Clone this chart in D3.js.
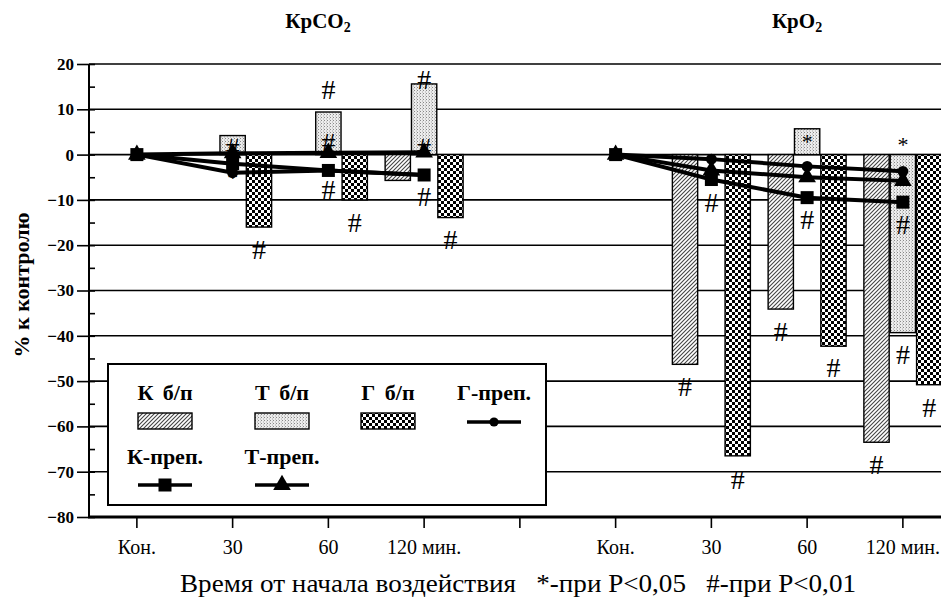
<!DOCTYPE html>
<html>
<head>
<meta charset="utf-8">
<script src="https://cdn.jsdelivr.net/npm/d3@7"></script>
<style>
	body { margin: 0; background: #fff; }
</style>
</head>
<body>
<svg id="chart" width="941" height="600"></svg>
<script>
// categories along the x axis (two panels with a gap between them)
var timeLabels = ["Кон.", "30", "60", "120 мин."];
var panelTitles = ["КрCO", "КрO"];
var barSeries = ["К б/п", "Т б/п", "Г б/п"];
var lineSeries = ["К-преп.", "Т-преп.", "Г-преп."];
var yTicks = [20, 10, 0, -10, -20, -30, -40, -50, -60, -70, -80];

// КрCO2, % к контролю
var co2_K_bp = [0, 0, 0, -5.7];
var co2_T_bp = [0, 4.2, 9.4, 15.6];
var co2_G_bp = [0, -16, -10, -13.9];
var co2_K_prep = [0, -2, -3.5, -4.5];
var co2_T_prep = [0, 0.3, 0.4, 0.5];
var co2_G_prep = [0, -4, -3.5, -4.5];

// КрO2, % к контролю
var o2_K_bp = [0, -46.3, -34.1, -63.5];
var o2_T_bp = [0, 0, 5.7, -39.3];
var o2_G_bp = [0, -66.5, -42.3, -50.8];
var o2_K_prep = [0, -5.5, -9.5, -10.5];
var o2_T_prep = [0, -3.5, -5, -5.8];
var o2_G_prep = [0, -1, -2.6, -3.7];

// significance marks: panel, time index, bar slot, value level, symbol
var marks = [
	[0, 1, 1, 1.5, "#"], [0, 1, 1, -5, "*"], [0, 1, 2, -21, "#"],
	[0, 2, 1, 14.3, "#"], [0, 2, 1, 2.6, "#"], [0, 2, 1, -7.7, "#"], [0, 2, 2, -15, "#"],
	[0, 3, 1, 16.5, "#"], [0, 3, 1, 1.5, "#"], [0, 3, 1, -9.3, "#"], [0, 3, 2, -18.8, "#"],
	[1, 1, 0, -51.2, "#"], [1, 1, 1, -10.6, "#"], [1, 1, 2, -71.7, "#"],
	[1, 2, 1, 2.9, "*"], [1, 2, 1, -14.3, "#"], [1, 2, 0, -39, "#"], [1, 2, 2, -47, "#"],
	[1, 3, 1, 2.2, "*"], [1, 3, 1, -15.5, "#"], [1, 3, 0, -68.4, "#"], [1, 3, 1, -44.1, "#"], [1, 3, 2, -55.8, "#"]
];

var barData = [[co2_K_bp, co2_T_bp, co2_G_bp], [o2_K_bp, o2_T_bp, o2_G_bp]];
var lineData = [[co2_K_prep, co2_T_prep, co2_G_prep], [o2_K_prep, o2_T_prep, o2_G_prep]];

var SERIF = "'Liberation Serif', 'Times New Roman', Times, 'DejaVu Serif', 'Noto Serif', serif";
var NARROW = "'Liberation Sans Narrow', 'Liberation Serif', 'DejaVu Serif', serif";

var svg = d3.select("#chart");
var plotLeft = 89, plotTop = 64, plotBottom = 517;
var step = 95.75;

var categories = timeLabels.concat([""], timeLabels);
var x = d3.scaleBand().domain(d3.range(categories.length)).range([plotLeft, plotLeft + step * categories.length]);
var bw = x.bandwidth();
var xSub = d3.scaleBand().domain([0, 1, 2]).range([-39, 39]).paddingInner(0.04);
var y = d3.scaleLinear().domain([-80, 20]).range([plotBottom, plotTop]);

function catIndex(panel, t) {
	return panel * 5 + t;
}
function cx(panel, t) {
	return x(catIndex(panel, t)) + bw / 2;
}

// patterns
var defs = svg.append("defs");
var hatch = defs.append("pattern").attr("id", "hatch").attr("patternUnits", "userSpaceOnUse")
	.attr("width", 4).attr("height", 4);
hatch.append("rect").attr("width", 4).attr("height", 4).attr("fill", "#fff");
hatch.append("path").attr("d", "M-1,1 l2,-2 M0,4 l4,-4 M3,5 l2,-2")
	.attr("stroke", "#444").attr("stroke-width", 1.1);

var dots = defs.append("pattern").attr("id", "dots").attr("patternUnits", "userSpaceOnUse")
	.attr("width", 3).attr("height", 3);
dots.append("rect").attr("width", 3).attr("height", 3).attr("fill", "#ececec");
dots.append("rect").attr("x", 0).attr("y", 0).attr("width", 1).attr("height", 1).attr("fill", "#888");
dots.append("rect").attr("x", 2).attr("y", 1.5).attr("width", 1).attr("height", 1).attr("fill", "#aaa");

var checker = defs.append("pattern").attr("id", "checker").attr("patternUnits", "userSpaceOnUse")
	.attr("width", 6).attr("height", 6);
checker.append("rect").attr("width", 6).attr("height", 6).attr("fill", "#fff");
checker.append("rect").attr("width", 3).attr("height", 3).attr("fill", "#000");
checker.append("rect").attr("x", 3).attr("y", 3).attr("width", 3).attr("height", 3).attr("fill", "#000");

var fills = ["url(#hatch)", "url(#dots)", "url(#checker)"];

// grid
svg.append("g").selectAll("line")
	.data(yTicks.filter(function(d) {return d > -80;}))
	.enter().append("line")
	.attr("x1", plotLeft).attr("x2", 941)
	.attr("y1", function(d) {return y(d);}).attr("y2", function(d) {return y(d);})
	.attr("stroke", "#000").attr("stroke-width", 1.6);

// y axis
var yAxis = svg.append("g").attr("transform", "translate(" + plotLeft + ",0)")
	.call(d3.axisLeft(y).tickValues(yTicks).tickSize(12).tickPadding(3).tickFormat(d3.format("d")));
yAxis.attr("font-family", SERIF).attr("font-size", 17).attr("font-weight", "bold");
yAxis.select(".domain").remove();
yAxis.selectAll(".tick line").attr("x1", 6).attr("stroke-width", 1.6);
svg.append("g").attr("transform", "translate(" + plotLeft + ",0)")
	.call(d3.axisRight(y).tickValues(d3.range(-75, 20, 10)).tickSize(6).tickFormat(""))
	.call(function(g) {g.select(".domain").remove();})
	.selectAll(".tick line").attr("stroke-width", 1.6);
svg.append("line").attr("x1", plotLeft).attr("x2", plotLeft).attr("y1", plotTop).attr("y2", plotBottom)
	.attr("stroke", "#000").attr("stroke-width", 2);

// x axis
var xAxis = svg.append("g").attr("transform", "translate(0," + plotBottom + ")")
	.call(d3.axisBottom(x).tickSize(11).tickPadding(12).tickFormat(function(i) {return categories[i];}));
xAxis.attr("font-family", NARROW).attr("font-size", 20);
xAxis.select(".domain").remove();
xAxis.selectAll(".tick line").attr("stroke-width", 1.6);
svg.append("line").attr("x1", plotLeft - 1).attr("x2", 941).attr("y1", plotBottom).attr("y2", plotBottom)
	.attr("stroke", "#000").attr("stroke-width", 3);

// bars
barData.forEach(function(panel, p) {
	panel.forEach(function(values, s) {
		svg.append("g").selectAll("rect")
			.data(values.map(function(v, t) {return {v: v, t: t};}).filter(function(d) {return d.v != 0;}))
			.enter().append("rect")
			.attr("x", function(d) {return cx(p, d.t) + xSub(s);})
			.attr("width", xSub.bandwidth())
			.attr("y", function(d) {return y(Math.max(0, d.v));})
			.attr("height", function(d) {return Math.abs(y(d.v) - y(0));})
			.attr("fill", fills[s])
			.attr("stroke", "#000").attr("stroke-width", 1.4);
	});
});

// lines with markers
function marker(g, kind, size) {
	if (kind == 0) {
		g.append("rect").attr("x", -size / 2).attr("y", -size / 2).attr("width", size).attr("height", size);
	} else if (kind == 1) {
		g.append("path").attr("d", d3.symbol(d3.symbolTriangle, size * size * 0.8)());
	} else {
		g.append("circle").attr("r", size * 0.42);
	}
}

lineData.forEach(function(panel, p) {
	panel.forEach(function(values, s) {
		var line = d3.line()
			.x(function(v, t) {return cx(p, t);})
			.y(function(v) {return y(v);});
		svg.append("path").datum(values).attr("d", line)
			.attr("fill", "none").attr("stroke", "#000").attr("stroke-width", 4);
		values.forEach(function(v, t) {
			var g = svg.append("g").attr("transform", "translate(" + cx(p, t) + "," + y(v) + ")").attr("fill", "#000");
			marker(g, s, 13);
		});
	});
});

// significance marks
svg.append("g").attr("font-family", SERIF).selectAll("text").data(marks).enter().append("text")
	.attr("x", function(d) {return cx(d[0], d[1]) + xSub(d[2]) + xSub.bandwidth() / 2;})
	.attr("y", function(d) {return y(d[3]);})
	.attr("text-anchor", "middle")
	.attr("dominant-baseline", "central")
	.attr("font-size", function(d) {return d[4] == "#" ? 28 : 22;})
	.text(function(d) {return d[4];});

// panel titles
[[318, panelTitles[0]], [797, panelTitles[1]]].forEach(function(d) {
	var t = svg.append("text").attr("x", d[0]).attr("y", 28).attr("text-anchor", "middle")
		.attr("font-family", SERIF).attr("font-size", 21).attr("font-weight", "bold").text(d[1]);
	t.append("tspan").attr("dy", 4).attr("font-size", 14).text("2");
});

// y title
svg.append("text").attr("transform", "translate(29,285) rotate(-90)").attr("text-anchor", "middle")
	.attr("font-family", SERIF).attr("font-size", 22).attr("font-weight", "bold").text("% к контролю");

// x title
svg.append("text").attr("x", 518).attr("y", 592).attr("text-anchor", "middle")
	.attr("textLength", 676).attr("lengthAdjust", "spacingAndGlyphs")
	.attr("font-family", NARROW).attr("font-size", 25).style("white-space", "pre")
	.text("Время от начала воздействия   *-при P<0,05   #-при P<0,01");

// legend
var legend = svg.append("g").attr("font-family", SERIF);
legend.append("rect").attr("x", 108).attr("y", 364).attr("width", 438).attr("height", 141)
	.attr("fill", "#fff").attr("stroke", "#000").attr("stroke-width", 2);
var legendBars = [[165, 393], [282, 393], [388, 393]];
barSeries.forEach(function(name, i) {
	var pos = legendBars[i];
	legend.append("text").attr("x", pos[0]).attr("y", pos[1] + 7).attr("text-anchor", "middle")
		.attr("font-size", 22).attr("font-weight", "bold").attr("word-spacing", 4).text(name);
	legend.append("rect").attr("x", pos[0] - 27).attr("y", pos[1] + 20).attr("width", 54).attr("height", 16)
		.attr("fill", fills[i]).attr("stroke", "#000").attr("stroke-width", 1.4);
});
var legendLines = [[165, 457], [282, 457], [494, 393]];
lineSeries.forEach(function(name, i) {
	var pos = legendLines[i];
	legend.append("text").attr("x", pos[0]).attr("y", pos[1] + 7).attr("text-anchor", "middle")
		.attr("font-size", 22).attr("font-weight", "bold").text(name);
	var ly = i == 2 ? pos[1] + 29 : pos[1] + 28;
	legend.append("line").attr("x1", pos[0] - 27).attr("x2", pos[0] + 27).attr("y1", ly).attr("y2", ly)
		.attr("stroke", "#000").attr("stroke-width", 3.5);
	var g = legend.append("g").attr("transform", "translate(" + pos[0] + "," + ly + ")").attr("fill", "#000");
	marker(g, i, i == 2 ? 11 : 13);
});
</script>
</body>
</html>
